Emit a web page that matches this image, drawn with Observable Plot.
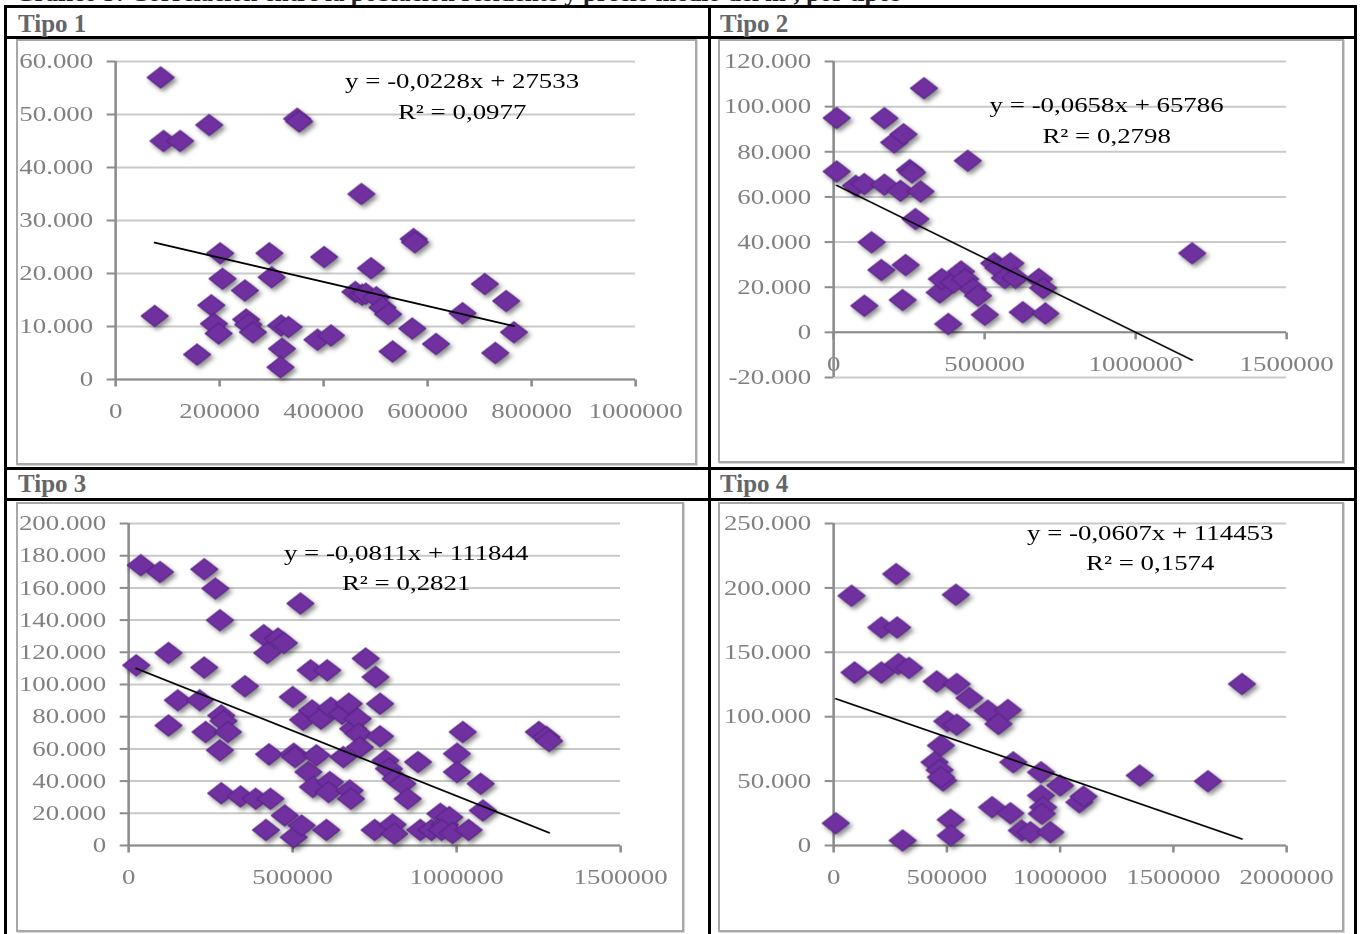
<!DOCTYPE html>
<html lang="es">
<head>
<meta charset="utf-8">
<title>Correlación por tipos</title>
<script src="https://cdn.jsdelivr.net/npm/d3@7"></script>
<script src="https://cdn.jsdelivr.net/npm/@observablehq/plot@0.6"></script>
<style>
  html, body { margin: 0; padding: 0; background: #fff; overflow: hidden; }
  #sheet { position: absolute; left: 0; top: 0; width: 1362px; height: 934px; overflow: hidden;
           font-family: "Liberation Serif", "Times New Roman", serif; }
  .line { position: absolute; background: #000; }
  .frame { position: absolute; box-sizing: border-box; border: 2px solid #a8a8a8; box-shadow: 1px 1px 0 #d6d6d6; }
  .tipo { position: absolute; font-weight: bold; font-size: 25px; line-height: 25px; color: #666; white-space: nowrap; }
  .heading { position: absolute; font-weight: bold; font-size: 25px; line-height: 25px; color: #222; white-space: nowrap; }
  .chart { position: absolute; transform-origin: 0 0; }
</style>
</head>
<body>
<div id="sheet"></div>
<script>
// ---- Data: precio medio (y) frente a tamaño (x), por tipo ----
const titulos = ["Tipo 1", "Tipo 2", "Tipo 3", "Tipo 4"];

const tipo1 = [
  [86500, 57000], [92000, 45000], [124000, 45000], [180000, 48000], [349000, 49200], [353000, 48700],
  [472500, 35000], [75000, 12000], [156600, 4700], [184000, 14000], [189000, 10500], [198000, 8700],
  [201000, 23800], [205500, 19000], [248500, 16800], [251000, 11300], [255000, 10400], [264000, 8900],
  [295700, 23800], [300000, 19300], [318000, 10200], [332500, 9900], [319800, 5800], [317000, 2300],
  [401000, 23100], [388000, 7500], [414000, 8300], [461000, 16500], [474000, 16000], [481000, 16200],
  [491000, 21000], [501500, 15500], [513000, 13600], [524000, 12300], [532500, 5300], [573000, 26500],
  [575500, 25900], [570400, 9600], [616000, 6700], [667000, 12500], [710000, 18000], [730000, 5000],
  [751000, 14800], [766000, 8900]
];

const tipo2 = [
  [9900, 95000], [9900, 71300], [73300, 64900], [101500, 65700], [101500, 11800], [125500, 39900],
  [157900, 27600], [167800, 94900], [167800, 65400], [200200, 84100], [221300, 62700], [231200, 87800],
  [238300, 29800], [228400, 14300], [252400, 71900], [259400, 70800], [270700, 50200], [287600, 62400],
  [298900, 108200], [351000, 17700], [358100, 23600], [379200, 3700], [397600, 22100], [421500, 27000],
  [435600, 23600], [444100, 76000], [461000, 19200], [477900, 16200], [500500, 7800], [531500, 30600],
  [545600, 28500], [566700, 24100], [585100, 30600], [602000, 24100], [626000, 8900], [679500, 23600],
  [693600, 19600], [700700, 8400], [1187100, 35000]
];

const tipo3 = [
  [23200, 111900], [36800, 174100], [95500, 169900], [121400, 119600], [121400, 74600], [150000, 90200],
  [216800, 90200], [230500, 171600], [230500, 110500], [234500, 70500], [264500, 159600], [278200, 139900],
  [282300, 80800], [289100, 77300], [302700, 70500], [278200, 59100], [282300, 32500], [340900, 30500],
  [354500, 98900], [387300, 29000], [411800, 130600], [422700, 119600], [428200, 56600], [432300, 29000],
  [418600, 9700], [455500, 128500], [473200, 125800], [475900, 18700], [500500, 92200], [503200, 57000],
  [507300, 54900], [523600, 150300], [503200, 5200], [527700, 12400], [531800, 78100], [548200, 45600],
  [555000, 108800], [559100, 83900], [561800, 36300], [572700, 56000], [586400, 78800], [605500, 108800],
  [602700, 9700], [613600, 39400], [616400, 85600], [609600, 33200], [650500, 81900], [654600, 54900],
  [671000, 88100], [673700, 34200], [677800, 29000], [684500, 72500], [698200, 78800], [701000, 69400],
  [705000, 61100], [722700, 116100], [752700, 104700], [766400, 88100], [766400, 67800], [750000, 9700],
  [782700, 52800], [793600, 47700], [804500, 13100], [810000, 7300], [814100, 41500], [834500, 38300],
  [850900, 29000], [882300, 51800], [889100, 9700], [923200, 9700], [950500, 19700], [964100, 13100],
  [977700, 17600], [954500, 9700], [987300, 7700], [1000900, 57000], [1000900, 45600], [1018600, 70500],
  [1036400, 9700], [1073200, 38300], [1080000, 21800], [1250400, 70500], [1273600, 67400], [1281800, 64900]
];

const tipo4 = [
  [9400, 17300], [78900, 193900], [92100, 134400], [210500, 169300], [210500, 134400], [276300, 210700],
  [280100, 169300], [285700, 140900], [304500, 3900], [332700, 137800], [454900, 127400], [445500, 64600],
  [473700, 77600], [468000, 58700], [483100, 50400], [473700, 53000], [501900, 96400], [516900, 19900],
  [516900, 7800], [539500, 194700], [543200, 125400], [543200, 93800], [599600, 114500], [680500, 104700],
  [699300, 29700], [727500, 94400], [768900, 105200], [780100, 25100], [793200, 64600], [830800, 11600],
  [868400, 10300], [915400, 56900], [915400, 38800], [924800, 29700], [919200, 24600], [956700, 10300],
  [1000000, 46500], [1084600, 33600], [1103400, 38000], [1351500, 54300], [1652200, 49900], [1802600, 125400]
];

// Linear trend fits: y = pendiente * x + intercepcion, with R²
const pendientes = [-0.0228, -0.0658, -0.0811, -0.0607];
const intercepciones = [27533, 65786, 111844, 114453];
const r2 = [0.0977, 0.2798, 0.2821, 0.1574];

// Axis ticks
const xTicks1 = [0, 200000, 400000, 600000, 800000, 1000000];
const xTicks2 = [0, 500000, 1000000, 1500000];
const xTicks3 = [0, 500000, 1000000, 1500000];
const xTicks4 = [0, 500000, 1000000, 1500000, 2000000];
const yTicks1 = [0, 10000, 20000, 30000, 40000, 50000, 60000];
const yTicks2 = [-20000, 0, 20000, 40000, 60000, 80000, 100000, 120000];
const yTicks3 = [0, 20000, 40000, 60000, 80000, 100000, 120000, 140000, 160000, 180000, 200000];
const yTicks4 = [0, 50000, 100000, 150000, 200000, 250000];

// ---- Layout and styling ----
const S = 1.28;                      // horizontal stretch of the embedded charts
const FONT = '"Liberation Serif", "Times New Roman", serif';
const PURPLE = "#7030a0", PURPLE_EDGE = "#5a2588";
const GRID = "#c9c9c9", AXIS = "#8c8c8c", LABEL = "#808080";

const series = [tipo1, tipo2, tipo3, tipo4];
const xTicks = [xTicks1, xTicks2, xTicks3, xTicks4];
const yTicks = [yTicks1, yTicks2, yTicks3, yTicks4];

// page-pixel boxes: frame [l, t, r, b], plot area [l, t, r, b], title position, equation centre
const boxes = [
  {frame: [16, 39, 697, 465], plot: [115, 61, 635, 379], title: [18, 11], eq: [461.5, 81, 112]},
  {frame: [718, 39, 1344, 463], plot: [833, 61, 1286, 377], title: [720, 11], eq: [1106, 105, 136]},
  {frame: [16, 502, 684, 932], plot: [128, 523, 620, 845], title: [18, 471], eq: [405.5, 553, 583]},
  {frame: [718, 502, 1344, 932], plot: [833, 523, 1286, 845], title: [720, 471], eq: [1149.6, 533, 563]}
];

const sheet = document.getElementById("sheet");

function addDiv(cls, l, t, w, h, text) {
  const d = document.createElement("div");
  d.className = cls;
  d.style.left = l + "px";
  d.style.top = t + "px";
  if (w != null) d.style.width = w + "px";
  if (h != null) d.style.height = h + "px";
  if (text != null) d.textContent = text;
  sheet.appendChild(d);
  return d;
}

// heading of the page (runs off the top edge)
addDiv("heading", 15, -20, null, null, "Gráfico 3: Correlación entre la población residente y precio medio del m², por tipos");

// table rules
addDiv("line", 4, 5, 1353, 2.5);          // top
addDiv("line", 4, 36, 1353, 2.5);         // under first titles
addDiv("line", 4, 467, 1353, 2.5);        // between rows
addDiv("line", 4, 498, 1353, 2.5);        // under second titles
addDiv("line", 4, 5, 3, 940);             // left
addDiv("line", 708, 5, 3, 940);           // middle
addDiv("line", 1354, 5, 3, 940);          // right

const fmtY = d3.formatLocale({decimal: ",", thousands: ".", grouping: [3], currency: ["", "€"], minus: "-"}).format(",");
const fmtDec = (v) => String(v).replace(".", ",");
const tickDown = {draw(context) { context.moveTo(0, 0); context.lineTo(0, 7); }};

boxes.forEach((B, i) => {
  addDiv("tipo", B.title[0], B.title[1], null, null, titulos[i]);
  const [fl, ft, fr, fb] = B.frame;
  const [pl, pt, pr, pb] = B.plot;
  addDiv("frame", fl, ft, fr - fl, fb - ft);

  const pts = series[i].map(([x, y]) => ({x, y}));
  const ext = d3.extent(pts, (d) => d.x);
  const trend = ext.map((x) => ({x, y: pendientes[i] * x + intercepciones[i]}));
  const xt = xTicks[i].map((v) => ({x: v, y: 0}));
  const yt = yTicks[i];
  const eq1 = `y = ${fmtDec(pendientes[i])}x + ${intercepciones[i]}`;
  const eq2 = `R² = ${fmtDec(r2[i])}`;

  const width = (fr - fl) / S, height = fb - ft;
  const svg = Plot.plot({
    width, height,
    marginLeft: (pl - fl) / S, marginRight: (fr - pr) / S,
    marginTop: pt - ft, marginBottom: fb - pb,
    x: {domain: [0, xTicks[i][xTicks[i].length - 1]], axis: null},
    y: {domain: [yt[0], yt[yt.length - 1]]},
    style: {fontFamily: FONT, fontSize: "21px", background: "transparent", overflow: "visible", maxWidth: "none"},
    marks: [
      Plot.gridY(yt, {stroke: GRID, strokeWidth: 2, strokeOpacity: 1}),
      Plot.ruleX([0], {stroke: AXIS, strokeWidth: 2}),
      Plot.ruleY([0], {stroke: AXIS, strokeWidth: 2}),
      Plot.axisY(yt, {tickSize: 6.5, tickPadding: 11, tickFormat: fmtY, stroke: AXIS, strokeWidth: 2,
                      color: LABEL, fill: LABEL, label: null, fontSize: 21}),
      Plot.dot(xt, {x: "x", y: "y", symbol: tickDown, stroke: AXIS, strokeWidth: 2, fill: "none"}),
      Plot.text(xt, {x: "x", y: "y", text: (d) => String(d.x), dy: 31.5, fill: LABEL, fontSize: 21}),
      Plot.dot(pts, {x: "x", y: "y", symbol: "diamond2", r: 9.5, fill: PURPLE, stroke: PURPLE_EDGE, strokeWidth: 1}),
      Plot.line(trend, {x: "x", y: "y", stroke: "#000", strokeWidth: 1.6}),
      Plot.text([eq1], {frameAnchor: "top-left", dx: (B.eq[0] - pl) / S, dy: B.eq[1] - pt,
                        textAnchor: "middle", lineAnchor: "middle", fill: "#000", fontSize: 21}),
      Plot.text([eq2], {frameAnchor: "top-left", dx: (B.eq[0] - pl) / S, dy: B.eq[2] - pt,
                        textAnchor: "middle", lineAnchor: "middle", fill: "#000", fontSize: 21})
    ]
  });

  // soft drop shadow under the markers
  const dotGroups = svg.querySelectorAll('g[aria-label="dot"]');
  const markers = dotGroups[dotGroups.length - 1];
  if (markers) markers.style.filter = "drop-shadow(2px 3px 2px rgba(0,0,0,0.45))";

  const holder = document.createElement("div");
  holder.className = "chart";
  holder.style.left = fl + "px";
  holder.style.top = ft + "px";
  holder.style.width = width + "px";
  holder.style.height = height + "px";
  holder.style.transform = `scaleX(${S})`;
  holder.appendChild(svg);
  sheet.appendChild(holder);
});
</script>
</body>
</html>
